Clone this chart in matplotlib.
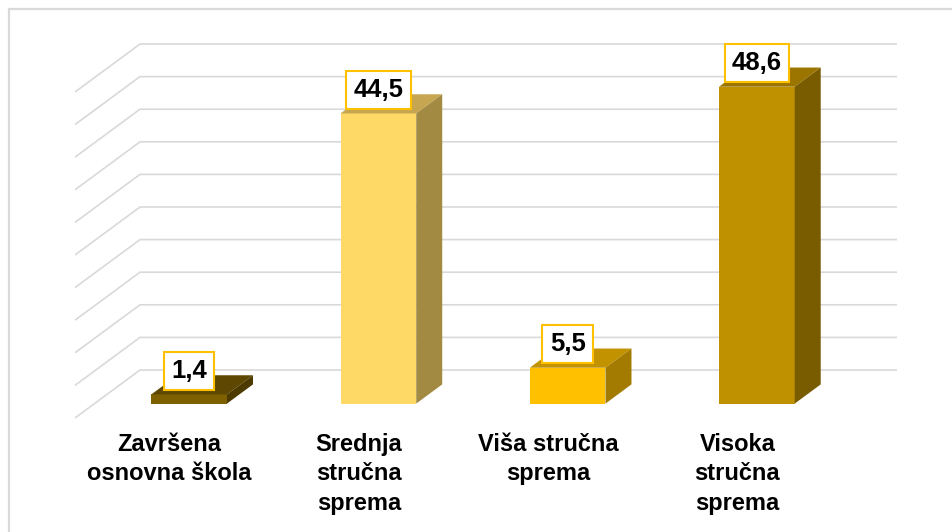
import matplotlib
matplotlib.use('Agg')
import matplotlib.pyplot as plt
from matplotlib.patches import Polygon, Rectangle

categories = ['Završena\nosnovna škola', 'Srednja\nstručna\nsprema',
              'Viša stručna\nsprema', 'Visoka\nstručna\nsprema']
values = [1.4, 44.5, 5.5, 48.6]
front_colors = ['#7F6000', '#FFD966', '#FFC000', '#BF9000']
top_colors = ['#5E4700', '#C6A650', '#C29200', '#9C7500']
side_colors = ['#4C3A00', '#A38A42', '#A27B00', '#7A5C00']
grid_values = list(range(0, 55, 5))

plt.rcParams['font.family'] = ['Liberation Sans', 'DejaVu Sans']

# perspective: offset from the back wall to the front of the floor
DX, DY = -0.3435, -7.36
T_FRONT, T_BACK = 0.70, 0.30
W = 0.40

fig = plt.figure(figsize=(9.52, 5.32), dpi=100)
ax = fig.add_axes([0, 0, 1, 1])
ax.set_xlim(-0.7398, 4.2906)
ax.set_ylim(-24.85, 56.75)
ax.axis('off')

# outer frame of the chart area
fig.patches.append(Rectangle((9 / 952, -0.1), 1.2, 1.1 - 9 / 532,
                             transform=fig.transFigure, fill=False,
                             edgecolor='#D9D9D9', lw=1.6))

# wall gridlines
for g in grid_values:
    ax.plot([DX, 0, len(values)], [g + DY, g, g], color='#D9D9D9', lw=1.2,
            zorder=1, solid_capstyle='butt')

for i, v in enumerate(values):
    c = i + 0.5
    xf, yf = c + T_FRONT * DX, T_FRONT * DY
    xb, yb = c + T_BACK * DX, T_BACK * DY
    ax.bar(xf, v, width=W, bottom=yf, color=front_colors[i], zorder=3)
    top = [(xf - W / 2, v + yf), (xf + W / 2, v + yf),
           (xb + W / 2, v + yb), (xb - W / 2, v + yb)]
    side = [(xf + W / 2, yf), (xf + W / 2, v + yf),
            (xb + W / 2, v + yb), (xb + W / 2, yb)]
    ax.add_patch(Polygon(top, closed=True, facecolor=top_colors[i],
                         edgecolor='none', zorder=3))
    ax.add_patch(Polygon(side, closed=True, facecolor=side_colors[i],
                         edgecolor='none', zorder=3))
    ax.annotate(f'{v:.1f}'.replace('.', ','), (xf, v + yf),
                xytext=(0, 17), textcoords='offset points',
                ha='center', va='center', fontsize=18.5, fontweight='bold',
                bbox=dict(boxstyle='square,pad=0.28', facecolor='white',
                          edgecolor='#FFC000', lw=1.5), zorder=5)
    ax.text(c + DX, -9.6, categories[i], ha='center', va='top',
            fontsize=17, fontweight='bold', linespacing=1.38, color='black')

fig.savefig('out.png', dpi=100)
